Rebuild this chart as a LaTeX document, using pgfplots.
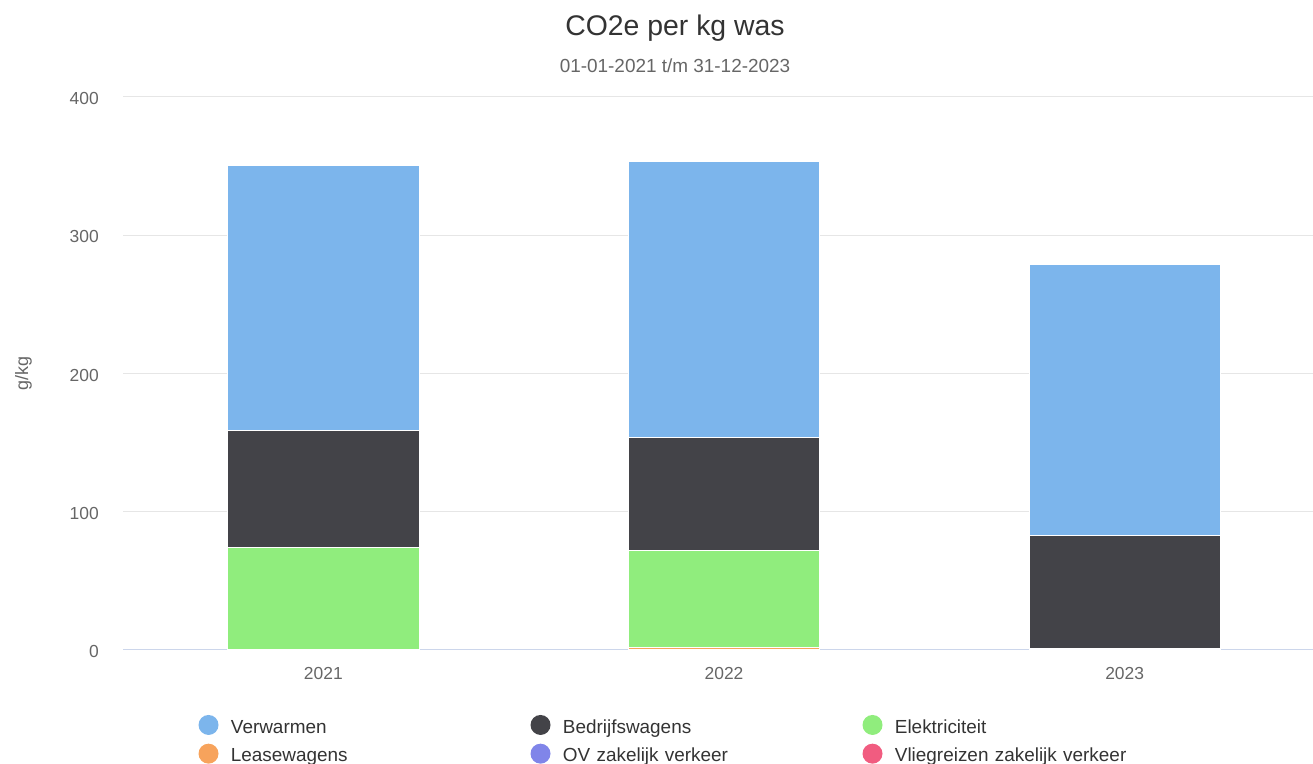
\documentclass[border=0pt]{standalone}
\usepackage{fontspec}
\setmainfont{Liberation Sans}
\usepackage{pgfplots}
\pgfplotsset{compat=1.18}
\definecolor{cVerw}{HTML}{7CB5EC}
\definecolor{cBedr}{HTML}{434348}
\definecolor{cElek}{HTML}{90ED7D}
\definecolor{cLease}{HTML}{F7A35C}
\definecolor{cOV}{HTML}{8085E9}
\definecolor{cVlieg}{HTML}{F15C80}
\definecolor{cText}{HTML}{333333}
\definecolor{cSub}{HTML}{666666}
\definecolor{cGrid}{HTML}{E6E6E6}
\definecolor{cAxis}{HTML}{CCD6EB}
\begin{document}
\begin{tikzpicture}
\useasboundingbox (0,0) rectangle (1313bp,764bp);
\begin{axis}[
  at={(123bp,114.3bp)}, anchor=south west,
  scale only axis, width=1190bp, height=552.7bp,
  ybar stacked, bar width=0.477,
  xmin=-0.5, xmax=2.47, ymin=0, ymax=400,
  xtick={0,1,2}, xticklabels={2021,2022,2023},
  ytick={100,200,300,400},
  ymajorgrids, grid style={cGrid, line width=1bp},
  extra y ticks={0},
  extra y tick style={grid style={cAxis, line width=1.3bp}},
  axis line style={draw=none},
  major tick length=0pt, tick style={draw=none},
  /pgf/number format/assume math mode=true,
  tick label style={font=\fontsize{17.5}{20}\selectfont, text=cSub},
  yticklabel style={anchor=base east, inner sep=0pt, xshift=-24bp, yshift=-7.7bp},
  xticklabel style={anchor=base, inner sep=0pt, yshift=-30.3bp},
  ylabel={g/kg},
  ylabel style={at={(axis description cs:-0.0836,0.5)}, anchor=center, font=\fontsize{18}{21}\selectfont, text=cSub},
  every axis plot/.append style={draw=white, line width=0.75bp,
    legend image code/.code={\fill[#1, draw=none] (10bp,3.7bp) circle (10bp);}},
  reverse legend,
  legend columns=3,
  legend cell align=left,
  legend style={at={(axis description cs:0.0633,-0.1177)}, anchor=north west,
    draw=none, fill=none, inner sep=0pt, row sep=5.5bp,
    font=\fontsize{19}{22}\selectfont, text=cText,
    nodes={text width=299.6bp, inner sep=0pt, text height=14bp, text depth=5bp, align=left},
    /tikz/every odd column/.append style={column sep=12.4bp}},
]
\addplot[fill=cVlieg] coordinates {(0,0) (1,0) (2,0)};
\addplot[fill=cOV] coordinates {(0,0) (1,0) (2,0)};
\addplot[fill=cLease] coordinates {(0,0) (1,1.6) (2,1.0)};
\addplot[fill=cElek] coordinates {(0,74.3) (1,70.5) (2,0)};
\addplot[fill=cBedr] coordinates {(0,84.7) (1,81.8) (2,82.0)};
\addplot[fill=cVerw] coordinates {(0,191.7) (1,199.7) (2,196.1)};
\legend{Vliegreizen zakelijk verkeer, OV zakelijk verkeer, Leasewagens, Elektriciteit, Bedrijfswagens, Verwarmen}
\end{axis}
\node[anchor=base, font=\fontsize{28.5}{34}\selectfont, text=cText] at (675bp,728bp) {CO2e per kg was};
\node[anchor=base, font=\fontsize{19}{23}\selectfont, text=cSub] at (675bp,691.3bp) {01-01-2021 t/m 31-12-2023};
\end{tikzpicture}
\end{document}
